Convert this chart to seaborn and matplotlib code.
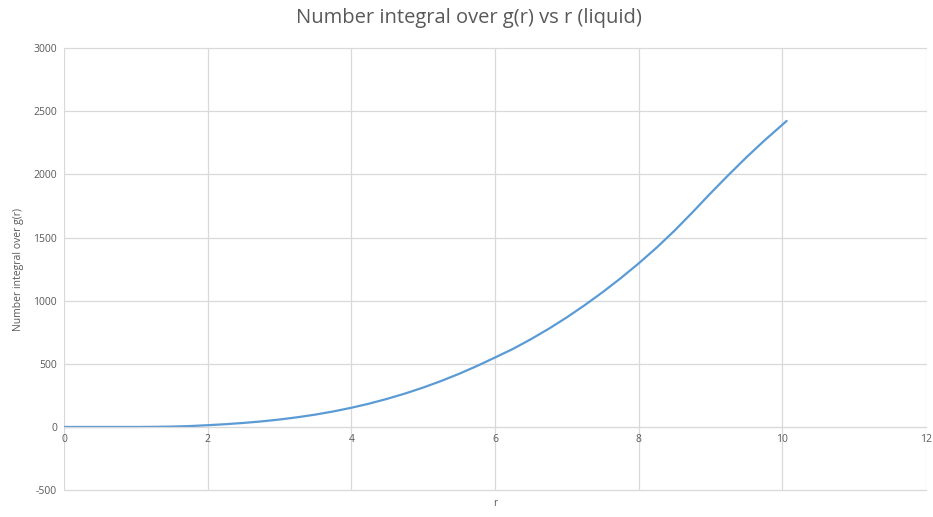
import numpy as np
import pandas as pd
import seaborn as sns
import matplotlib.pyplot as plt

r = [0, 0.5, 1, 1.25, 1.5, 1.75, 2, 2.25, 2.5, 2.75, 3, 3.25, 3.5, 3.75, 4, 4.25, 4.5, 4.75,
     5, 5.25, 5.5, 5.75, 6, 6.25, 6.5, 6.75, 7, 7.25, 7.5, 7.75, 8, 8.25, 8.5, 8.75,
     9, 9.25, 9.5, 9.75, 10, 10.06]
n_int = [0, 0, 0, 1, 3, 7, 14, 22, 32, 44, 59, 77, 98, 123, 152, 185, 223, 265,
         312, 364, 421, 483, 550, 618, 695, 778, 868, 965, 1068, 1178, 1295, 1420, 1555, 1700,
         1850, 1995, 2135, 2268, 2393, 2423]

df = pd.DataFrame({'r': r, 'n': n_int})

sns.set_style('whitegrid', {'grid.color': '#D9D9D9'})
plt.rcParams['font.family'] = ['Open Sans', 'DejaVu Sans']
plt.rcParams['axes.unicode_minus'] = False

fig, ax = plt.subplots(figsize=(9.33, 5.17), dpi=100)
fig.subplots_adjust(left=0.0686, right=0.9925, top=0.907, bottom=0.052)

sns.lineplot(data=df, x='r', y='n', ax=ax, color='#5B9BD5', linewidth=1.6)

ax.set_xlim(0, 12)
ax.set_ylim(-500, 3000)
ax.set_xticks(range(0, 13, 2))
ax.set_yticks(range(-500, 3001, 500))
ax.grid(True, color='#D9D9D9', linewidth=0.9)
for gl in ax.get_xgridlines() + ax.get_ygridlines():
  gl.set_clip_on(False)
for s in ['top', 'right', 'left']:
  ax.spines[s].set_visible(False)
ax.spines['bottom'].set_position(('data', 0))
ax.spines['bottom'].set_color('#D9D9D9')
ax.tick_params(length=0, labelsize=7.5, colors='#595959', pad=5)

ax.set_xlabel('r', fontsize=7.5, color='#595959')
ax.xaxis.set_label_coords(0.5, -0.018)
ax.set_ylabel('Number integral over g(r)', fontsize=7.5, color='#595959')
ax.yaxis.set_label_coords(-0.046, 0.5)
fig.suptitle('Number integral over g(r) vs r (liquid)', x=0.503, y=0.985,
             fontsize=14.5, color='#595959')

plt.savefig('out.png', dpi=100)
plt.close()
